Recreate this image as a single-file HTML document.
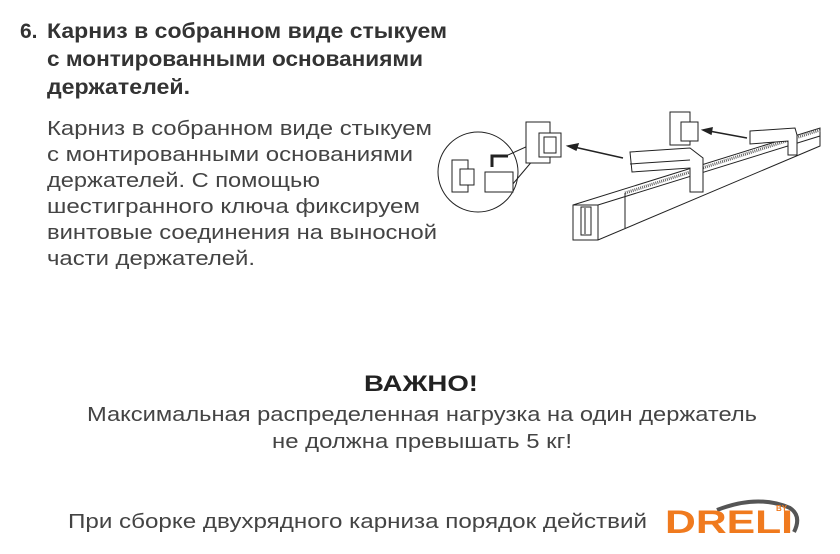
<!DOCTYPE html>
<html><head><meta charset="utf-8"><style>
html,body{margin:0;padding:0;background:#fff;width:840px;height:554px;overflow:hidden}
svg{display:block}
</style></head><body>
<svg width="840" height="554" viewBox="0 0 840 554" xmlns="http://www.w3.org/2000/svg" font-family="Liberation Sans, sans-serif">
<g fill="#333" font-weight="bold" font-size="21">
<text x="20" y="38">6.</text>
<text x="47" y="38" textLength="400" lengthAdjust="spacingAndGlyphs">Карниз в собранном виде стыкуем</text>
<text x="47" y="66" textLength="376" lengthAdjust="spacingAndGlyphs">с монтированными основаниями</text>
<text x="47" y="94" textLength="143" lengthAdjust="spacingAndGlyphs">держателей.</text>
</g>
<g fill="#444" font-size="20">
<text x="47" y="135" textLength="385" lengthAdjust="spacingAndGlyphs">Карниз в собранном виде стыкуем</text>
<text x="47" y="161" textLength="366" lengthAdjust="spacingAndGlyphs">с монтированными основаниями</text>
<text x="47" y="187" textLength="273" lengthAdjust="spacingAndGlyphs">держателей. С помощью</text>
<text x="47" y="213" textLength="373" lengthAdjust="spacingAndGlyphs">шестигранного ключа фиксируем</text>
<text x="47" y="239" textLength="390" lengthAdjust="spacingAndGlyphs">винтовые соединения на выносной</text>
<text x="47" y="265" textLength="208" lengthAdjust="spacingAndGlyphs">части держателей.</text>
</g>
<text x="364" y="391" fill="#222" font-weight="bold" font-size="22" textLength="114" lengthAdjust="spacingAndGlyphs">ВАЖНО!</text>
<g fill="#444" font-size="20">
<text x="87" y="421" textLength="670" lengthAdjust="spacingAndGlyphs">Максимальная распределенная нагрузка на один держатель</text>
<text x="272" y="448" textLength="300" lengthAdjust="spacingAndGlyphs">не должна превышать 5 кг!</text>
<text x="68" y="528" textLength="579" lengthAdjust="spacingAndGlyphs">При сборке двухрядного карниза порядок действий</text>
</g>
<g fill="#fff" stroke="#222" stroke-width="1">
<circle cx="478" cy="172" r="40"/>
<line x1="508" y1="155" x2="550" y2="136"/>
<line x1="512" y1="185" x2="550" y2="140"/>
<rect x="526" y="122" width="24" height="41"/>
<rect x="539" y="133" width="22" height="24"/>
<rect x="544" y="137" width="12" height="16"/>
<rect x="452" y="160" width="16" height="32"/>
<rect x="460" y="169" width="14" height="16"/>
<rect x="485" y="172" width="28" height="20"/>
<path d="M492 167 v-11 h16" fill="none" stroke-width="3"/>
<rect x="670" y="112" width="20" height="33"/>
<rect x="681" y="122" width="17" height="19"/>
<path d="M573 205 L820 128 L820 146 L598 240 L573 240 Z"/>
<path d="M573 205 L598 205 L820 136" fill="none"/>
<line x1="598" y1="205" x2="598" y2="240"/>
<line x1="625" y1="193" x2="625" y2="228"/>
<rect x="581" y="207" width="10" height="28"/>
<line x1="585" y1="208" x2="585" y2="234"/>
<path d="M625 193 L820 130" stroke="#666" stroke-width="3" stroke-dasharray="1 1"/>
<path d="M630 152 L690 148 L703 158 L703 192 L690 192 L690 168 L632 172 Z"/>
<line x1="690" y1="160" x2="630" y2="164"/>
<path d="M750 131 L795 128 L797 135 L797 155 L788 155 L788 141 L750 144 Z"/>
</g>
<g stroke="#222" stroke-width="1.5" fill="#222">
<line x1="623" y1="158" x2="574" y2="147"/>
<path d="M568 146 L578 144 L576 150 Z"/>
<line x1="747" y1="138" x2="709" y2="131"/>
<path d="M703 130 L712 128 L711 134 Z"/>
</g>
<path d="M717 510 Q758 494 790 508 Q802 516 794 532" fill="none" stroke="#555" stroke-width="4"/>
<text x="665" y="533" fill="#f07a1e" font-weight="bold" font-size="32" textLength="128" lengthAdjust="spacingAndGlyphs">DRELI</text>
<text x="776" y="511" fill="#f07a1e" font-weight="bold" font-size="8">BY</text>
</svg>
</body></html>
